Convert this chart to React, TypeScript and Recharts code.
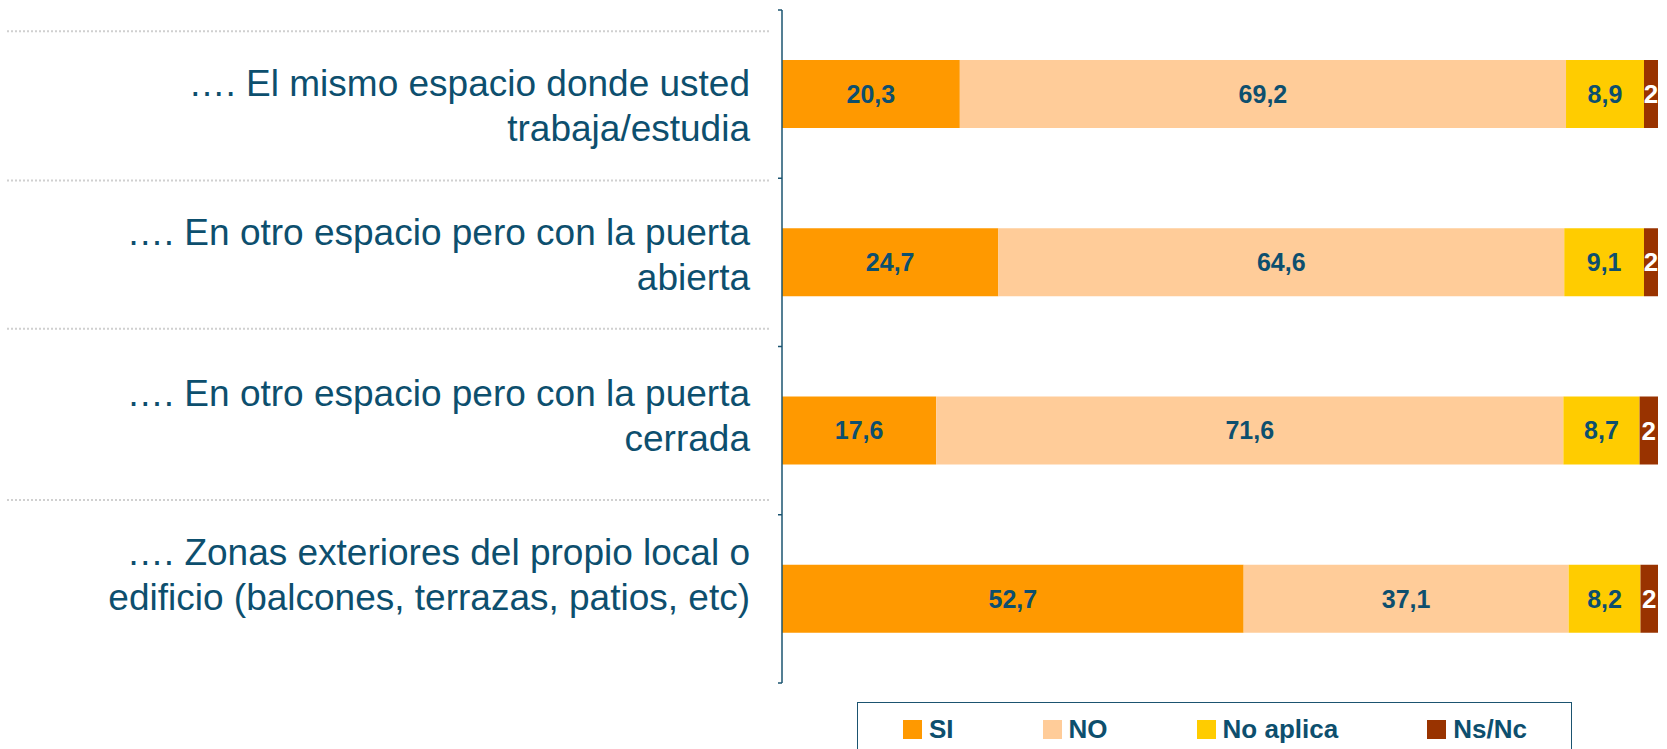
import React from "react";
import { BarChart, Bar, XAxis, YAxis, Legend, LabelList } from "recharts";

// ---- data ----
const categories = [
  "…. El mismo espacio donde usted\ntrabaja/estudia",
  "…. En otro espacio pero con la puerta\nabierta",
  "…. En otro espacio pero con la puerta\ncerrada",
  "…. Zonas exteriores del propio local o\nedificio (balcones, terrazas, patios, etc)",
];
const siValues = [20.3, 24.7, 17.6, 52.7];
const noValues = [69.2, 64.6, 71.6, 37.1];
const noAplicaValues = [8.9, 9.1, 8.7, 8.2];
const nsncValues = [1.6, 1.6, 2.1, 2.0];
const seriesNames = ["SI", "NO", "No aplica", "Ns/Nc"];

// ---- styles / layout ----
const W = 1667;
const H = 749;
const MARGIN = { top: 10, right: 9, bottom: 10, left: 0 };
const LEGEND_H = 56;
const PLOT_H = H - MARGIN.top - MARGIN.bottom - LEGEND_H;
const HALF_BAND = PLOT_H / categories.length / 2;
const TEXT = "#0D4F6E";
const AXIS = "#1B5470";
const FONT = '"Liberation Sans", Arial, Helvetica, sans-serif';
const COLORS = ["#FF9900", "#FFCC99", "#FFCC00", "#993300"];
const LABEL_SHIFT = [2, -17, -25, -34];
const SEPARATOR_SHIFT = [-63, -82, -102, -99];

const data = categories.map((name, i) => ({
  name,
  si: siValues[i],
  no: noValues[i],
  na: noAplicaValues[i],
  ns: nsncValues[i],
}));

const fmt = (v: any) => Number(v).toFixed(1).replace(".", ",");
const fmtInt = (v: any) => String(Math.round(Number(v)));

const CategoryTick = (props: any) => {
  const { x, y, payload, index } = props;
  const lines = String(payload.value).split("\n");
  const axisX = x + 32;
  const i = index ?? 0;
  return (
    <g>
      <line
        x1={7}
        x2={771}
        y1={y + SEPARATOR_SHIFT[i]}
        y2={y + SEPARATOR_SHIFT[i]}
        stroke="#D0D0D0"
        strokeWidth={2}
        strokeDasharray="2 2"
      />
      <line x1={axisX - 4} x2={axisX} y1={y - HALF_BAND} y2={y - HALF_BAND} stroke={AXIS} strokeWidth={1.5} />
      {i === categories.length - 1 && (
        <line x1={axisX - 4} x2={axisX} y1={y + HALF_BAND} y2={y + HALF_BAND} stroke={AXIS} strokeWidth={1.5} />
      )}
      <text
        x={x}
        y={y + LABEL_SHIFT[i]}
        textAnchor="end"
        fill={TEXT}
        fontSize={37}
        fontFamily={FONT}
      >
        {lines.map((l, k) => (
          <tspan key={k} x={x} dy={k === 0 ? 0 : 45}>
            {l}
          </tspan>
        ))}
      </text>
    </g>
  );
};

const LegendBox = (props: any) => {
  const payload = [...(props.payload || [])].sort(
    (a: any, b: any) => seriesNames.indexOf(a.value) - seriesNames.indexOf(b.value)
  );
  return (
    <div
      style={{
        boxSizing: "border-box",
        width: 715,
        height: LEGEND_H,
        border: `1.5px solid ${AXIS}`,
        paddingTop: 16.5,
        paddingLeft: 45,
        display: "flex",
        alignItems: "flex-start",
        fontFamily: FONT,
        whiteSpace: "nowrap",
      }}
    >
      {payload.map((p: any, k: number) => (
        <div
          key={k}
          style={{ display: "flex", alignItems: "center", height: 19, marginRight: 89, flexShrink: 0 }}
        >
          <span style={{ display: "inline-block", width: 19, height: 19, background: p.color, marginRight: 7, flexShrink: 0 }} />
          <span style={{ fontSize: 26, fontWeight: "bold", color: TEXT, lineHeight: "19px", whiteSpace: "nowrap" }}>{p.value}</span>
        </div>
      ))}
    </div>
  );
};

export default function App() {
  return (
    <div style={{ position: "absolute", left: 0, top: 0, width: W, height: H, overflow: "hidden", background: "#fff" }}>
      <BarChart width={W} height={H} data={data} layout="vertical" margin={MARGIN} style={{ fontFamily: FONT }}>
        <XAxis type="number" domain={[0, 100]} hide />
        <YAxis
          type="category"
          dataKey="name"
          width={782}
          tickSize={0}
          tickMargin={32}
          tickLine={false}
          axisLine={{ stroke: AXIS, strokeWidth: 1.5 }}
          tick={<CategoryTick />}
          interval={0}
        />
        <Legend
          verticalAlign="bottom"
          align="left"
          width={715}
          height={LEGEND_H}
          itemSorter={null as any}
          wrapperStyle={{ left: 857, top: 702, width: 715, height: LEGEND_H }}
          content={<LegendBox />}
        />
        <Bar dataKey="si" name={seriesNames[0]} stackId="a" fill={COLORS[0]} barSize={68} isAnimationActive={false}>
          <LabelList dataKey="si" position="center" formatter={fmt} fill={TEXT} fontSize={25} fontWeight="bold" fontFamily={FONT} />
        </Bar>
        <Bar dataKey="no" name={seriesNames[1]} stackId="a" fill={COLORS[1]} barSize={68} isAnimationActive={false}>
          <LabelList dataKey="no" position="center" formatter={fmt} fill={TEXT} fontSize={25} fontWeight="bold" fontFamily={FONT} />
        </Bar>
        <Bar dataKey="na" name={seriesNames[2]} stackId="a" fill={COLORS[2]} barSize={68} isAnimationActive={false}>
          <LabelList dataKey="na" position="center" formatter={fmt} fill={TEXT} fontSize={25} fontWeight="bold" fontFamily={FONT} />
        </Bar>
        <Bar dataKey="ns" name={seriesNames[3]} stackId="a" fill={COLORS[3]} barSize={68} isAnimationActive={false}>
          <LabelList dataKey="ns" position="center" formatter={fmtInt} fill="#FFFFFF" fontSize={26} fontWeight="bold" fontFamily={FONT} />
        </Bar>
      </BarChart>
    </div>
  );
}
